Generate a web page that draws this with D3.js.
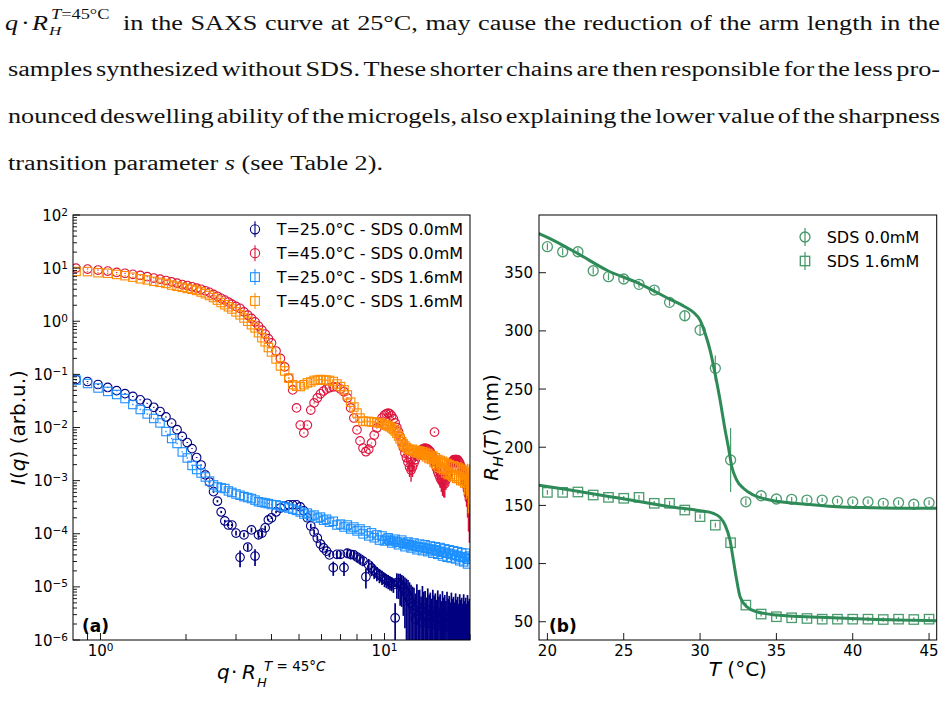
<!DOCTYPE html>
<html>
<head>
<meta charset="utf-8">
<script src="https://cdn.jsdelivr.net/npm/d3@7"></script>
<style>
  html, body { margin: 0; padding: 0; background: #fff; }
  svg { display: block; }
  text { font-family: "DejaVu Sans", sans-serif; fill: #000; }
  .prose text { font-family: "Liberation Serif", serif; font-size: 20px; fill: #111; }
</style>
</head>
<body>
<div id="figure"></div>
<script>
// ---------- panel (a): SAXS intensities vs reduced q ----------
const qValues = [
  0.82, 0.90, 0.98, 1.06, 1.14, 1.22, 1.30, 1.38, 1.46, 1.54,
  1.62, 1.70, 1.78, 1.86, 1.94, 2.02, 2.10, 2.18, 2.26, 2.34,
  2.42, 2.50, 2.58, 2.66, 2.74, 2.82, 2.90, 3.00, 3.10, 3.20,
  3.30, 3.40, 3.50, 3.60, 3.70, 3.80, 3.90, 4.00, 4.15, 4.30,
  4.45, 4.60, 4.75, 4.90, 5.05, 5.20, 5.35, 5.50, 5.65, 5.80,
  5.95, 6.10, 6.25, 6.40, 6.60, 6.80, 7.00, 7.20, 7.40, 7.60,
  7.80, 8.00, 8.20, 8.40, 8.60, 8.80, 9.00, 9.20, 9.40, 9.60,
  9.80,
  10.00, 10.15, 10.30, 10.45, 10.60, 10.75, 10.90, 11.05, 11.20, 11.35,
  11.50, 11.65, 11.80, 11.95, 12.10, 12.25, 12.40, 12.55, 12.70, 12.85,
  13.00, 13.15, 13.30, 13.45, 13.60, 13.75, 13.90, 14.05, 14.20, 14.35,
  14.50, 14.65, 14.80, 14.95, 15.10, 15.25, 15.40, 15.55, 15.70, 15.85,
  16.00, 16.15, 16.30, 16.45, 16.60, 16.75, 16.90, 17.05, 17.20, 17.35,
  17.50, 17.65, 17.80, 17.95, 18.10, 18.25, 18.40, 18.55, 18.70, 18.85,
  19.00, 19.15, 19.30, 19.45, 19.60, 19.75, 19.90
];

// T=25.0°C - SDS 0.0mM
const iT25Sds0 = [
  0.080, 0.0735, 0.0645, 0.0567, 0.0493, 0.0433, 0.0384, 0.0332, 0.0286, 0.024,
  0.020, 0.0158, 0.0121, 0.0091, 0.0068, 0.0052, 0.0040, 0.00272, 0.00197, 0.00128,
  0.00094, 0.00062, 0.00041, 2.57e-4, 1.74e-4, 1.46e-4, 1.46e-4, 1.03e-4, 3.6e-5, 9.5e-5,
  5.6e-5, 1.18e-4, 3.8e-5, 9.5e-5, 1.03e-4, 1.29e-4, 1.82e-4, 2.0e-4, 2.57e-4, 3.05e-4,
  3.3e-4, 3.5e-4, 3.5e-4, 3.5e-4, 3.2e-4, 2.7e-4, 2.0e-4, 1.4e-4, 1.08e-4, 8.3e-5,
  6.4e-5, 5.4e-5, 4.7e-5, 4.0e-5, 2.3e-5, 4.1e-5, 4.1e-5, 2.3e-5, 4.3e-5, 4.1e-5,
  4.0e-5, 3.65e-5, 3.35e-5, 3.07e-5, 1.55e-5, 2.58e-5, 2.27e-5, 2.0e-5, 1.82e-5, 1.67e-5,
  1.55e-5,
  1.41e-5, 1.35e-5, 1.29e-5, 1.22e-5, 1.18e-5, 1.1e-5, 2.6e-6, 1.2e-5, 1.18e-5, 1.1e-5,
  1.05e-5, 9.5e-6, 8.3e-6, 7.5e-6, 6.7e-6, 5.8e-6, 5.0e-6, 4.4e-6, 3.7e-6, 2.5e-6,
  4.3e-6, 2.9e-6, 3.4e-6, 2.2e-6, 4.0e-6, 2.7e-6, 3.2e-6, 2.1e-6, 3.6e-6, 2.4e-6,
  3.0e-6, 2.0e-6, 3.4e-6, 2.3e-6, 2.9e-6, 1.9e-6, 3.3e-6, 2.2e-6, 2.8e-6, 1.8e-6,
  3.2e-6, 2.1e-6, 2.7e-6, 1.8e-6, 3.1e-6, 2.0e-6, 2.6e-6, 1.7e-6, 3.0e-6, 2.0e-6,
  2.5e-6, 1.7e-6, 2.9e-6, 1.9e-6, 2.5e-6, 1.6e-6, 2.8e-6, 1.9e-6, 2.4e-6, 1.6e-6,
  2.8e-6, 1.8e-6, 2.4e-6, 1.6e-6, 2.7e-6, 1.8e-6, 2.3e-6
];
const errT25Sds0 = [
  0.02, 0.02, 0.02, 0.02, 0.02, 0.02, 0.02, 0.02, 0.02, 0.02,
  0.02, 0.02, 0.02, 0.02, 0.02, 0.02, 0.02, 0.02, 0.02, 0.02,
  0.05, 0.05, 0.05, 0.05, 0.05, 0.05, 0.05, 0.10, 0.35, 0.10,
  0.15, 0.10, 0.35, 0.15, 0.15, 0.10, 0.05, 0.05, 0.05, 0.05,
  0.05, 0.05, 0.05, 0.05, 0.10, 0.10, 0.10, 0.10, 0.10, 0.10,
  0.10, 0.10, 0.10, 0.10, 0.30, 0.15, 0.15, 0.30, 0.20, 0.20,
  0.20, 0.20, 0.20, 0.20, 0.40, 0.30, 0.30, 0.30, 0.30, 0.30,
  0.30,
  0.30, 0.30, 0.30, 0.30, 0.30, 0.30, 0.90, 0.50, 0.50, 0.60,
  0.60, 0.70, 0.80, 0.90, 1.0, 1.1, 1.2, 1.3, 1.6, 2.0,
  1.6, 2.0, 1.6, 2.0, 1.6, 2.0, 1.6, 2.0, 1.6, 2.0,
  1.6, 2.0, 1.6, 2.0, 1.6, 2.0, 1.6, 2.0, 1.6, 2.0,
  1.6, 2.0, 1.6, 2.0, 1.6, 2.0, 1.6, 2.0, 1.6, 2.0,
  1.6, 2.0, 1.6, 2.0, 1.6, 2.0, 1.6, 2.0, 1.6, 2.0,
  1.6, 2.0, 1.6, 2.0, 1.6, 2.0, 1.6
];

// T=45.0°C - SDS 0.0mM
const iT45Sds0 = [
  10.0, 9.6, 9.2, 8.8, 8.3, 8.0, 7.65, 7.3, 6.9, 6.5,
  6.2, 5.85, 5.5, 5.2, 4.9, 4.7, 4.45, 4.2, 4.0, 3.75,
  3.5, 3.2, 2.95, 2.7, 2.5, 2.3, 2.1, 1.9, 1.75, 1.5,
  1.3, 1.13, 0.97, 0.81, 0.68, 0.575, 0.47, 0.39, 0.275, 0.2,
  0.138, 0.085, 0.051, 0.0234, 0.0111, 0.0079, 0.0111, 0.0213, 0.029, 0.036,
  0.043, 0.0486, 0.053, 0.056, 0.058, 0.058, 0.053, 0.047, 0.036, 0.0234,
  0.0151, 0.009, 0.0056, 0.0041, 0.0035, 0.0039, 0.0051, 0.0072, 0.0098, 0.0127,
  0.0151,
  0.0172, 0.0180, 0.0186, 0.0180, 0.0166, 0.0145, 0.0122, 0.0100, 0.0083, 0.0067,
  0.0054, 0.0042, 0.0033, 0.0027, 0.0022, 0.0018, 0.00158, 0.0018, 0.00214, 0.0025,
  0.0029, 0.0032, 0.0035, 0.0037, 0.0039, 0.0040, 0.0041, 0.0040, 0.0039, 0.0037,
  0.0035, 0.0031, 0.0027, 0.0023, 0.00197, 0.0017, 0.00145, 0.00128, 0.00112, 0.00102,
  0.00094, 0.00088, 0.00087, 0.00102, 0.00122, 0.00145, 0.00173, 0.00192, 0.00214, 0.0023,
  0.00245, 0.0025, 0.0025, 0.0025, 0.00245, 0.0023, 0.00214, 0.0019, 0.00173, 0.0015,
  0.00133, 0.0011, 0.00094, 0.0008, 0.00067, 0.00055, 0.00045
];
const errT45Sds0 = [
  0.02, 0.02, 0.02, 0.02, 0.02, 0.02, 0.02, 0.02, 0.02, 0.02,
  0.02, 0.02, 0.02, 0.02, 0.02, 0.02, 0.02, 0.02, 0.02, 0.02,
  0.02, 0.02, 0.02, 0.02, 0.02, 0.02, 0.02, 0.02, 0.02, 0.02,
  0.02, 0.02, 0.02, 0.02, 0.02, 0.02, 0.02, 0.02, 0.02, 0.02,
  0.02, 0.02, 0.02, 0.02, 0.02, 0.02, 0.02, 0.02, 0.02, 0.02,
  0.02, 0.02, 0.02, 0.02, 0.02, 0.02, 0.02, 0.02, 0.02, 0.02,
  0.02, 0.02, 0.02, 0.02, 0.02, 0.02, 0.02, 0.02, 0.02, 0.02,
  0.05,
  0.05, 0.05, 0.05, 0.05, 0.05, 0.05, 0.05, 0.05, 0.05, 0.05,
  0.05, 0.10, 0.15, 0.20, 0.30, 0.35, 0.40, 0.35, 0.30, 0.10,
  0.10, 0.10, 0.10, 0.10, 0.10, 0.10, 0.10, 0.10, 0.10, 0.10,
  0.10, 0.10, 0.10, 0.10, 0.25, 0.25, 0.30, 0.30, 0.35, 0.40,
  0.45, 0.45, 0.45, 0.35, 0.20, 0.20, 0.20, 0.20, 0.20, 0.20,
  0.20, 0.20, 0.20, 0.20, 0.20, 0.20, 0.20, 0.20, 0.30, 0.35,
  0.40, 0.45, 0.50, 0.60, 0.70, 0.80, 0.85
];
const outlierT45Sds0 = [[15.0, 0.0082]];

// T=25.0°C - SDS 1.6mM
const iT25Sds16 = [
  0.078, 0.0673, 0.0554, 0.0478, 0.0418, 0.0351, 0.0271, 0.0218, 0.0180, 0.0148,
  0.0122, 0.0084, 0.0062, 0.0050, 0.00347, 0.00267, 0.00193, 0.00162, 0.00139, 0.00117,
  0.00098, 0.00083, 0.00076, 0.00073, 0.00071, 0.00064, 0.00060, 0.00056, 0.00053, 0.00050,
  0.00048, 0.00046, 0.00043, 0.00040, 0.00039, 0.00038, 0.00037, 0.000355, 0.00035, 0.000335,
  0.00032, 0.000305, 0.00029, 0.000275, 0.000257, 0.000235, 0.000245, 0.000215, 0.000225, 0.000197,
  0.000206, 0.00018, 0.000188, 0.000165, 0.000172, 0.000146, 0.000152, 0.000134, 0.000146, 0.000123,
  0.000134, 0.000113, 0.000123, 0.0000995, 0.000113, 0.000091, 0.000104, 0.000084, 0.000095, 0.000076,
  0.000091,
  7.3e-5, 7.9e-5, 8.4e-5, 7.5e-5, 6.7e-5, 7.3e-5, 7.9e-5, 7.0e-5, 6.2e-5, 6.9e-5,
  7.6e-5, 6.6e-5, 5.7e-5, 6.4e-5, 7.0e-5, 6.2e-5, 5.4e-5, 6.0e-5, 6.7e-5, 5.8e-5,
  5.0e-5, 5.7e-5, 6.4e-5, 5.5e-5, 4.8e-5, 5.5e-5, 6.2e-5, 5.3e-5, 4.6e-5, 5.2e-5,
  5.9e-5, 5.0e-5, 4.3e-5, 5.0e-5, 5.7e-5, 4.8e-5, 4.1e-5, 4.7e-5, 5.5e-5, 4.5e-5,
  3.8e-5, 4.5e-5, 5.2e-5, 4.3e-5, 3.6e-5, 4.3e-5, 5.0e-5, 4.1e-5, 3.5e-5, 4.1e-5,
  4.8e-5, 3.9e-5, 3.35e-5, 3.9e-5, 4.6e-5, 3.7e-5, 3.1e-5, 3.7e-5, 4.4e-5, 3.6e-5,
  2.95e-5, 3.6e-5, 4.3e-5, 3.4e-5, 2.7e-5, 3.3e-5, 3.8e-5
];
const errT25Sds16 = [
  0.03, 0.03, 0.03, 0.03, 0.03, 0.03, 0.03, 0.03, 0.03, 0.03,
  0.03, 0.03, 0.03, 0.03, 0.03, 0.03, 0.03, 0.03, 0.03, 0.03,
  0.03, 0.03, 0.03, 0.03, 0.03, 0.03, 0.03, 0.03, 0.03, 0.03,
  0.03, 0.03, 0.03, 0.03, 0.03, 0.03, 0.03, 0.03, 0.03, 0.03,
  0.03, 0.03, 0.03, 0.03, 0.03, 0.03, 0.03, 0.03, 0.03, 0.03,
  0.03, 0.03, 0.03, 0.03, 0.03, 0.03, 0.03, 0.03, 0.03, 0.03,
  0.03, 0.03, 0.03, 0.03, 0.03, 0.03, 0.03, 0.03, 0.03, 0.03,
  0.03,
  0.10, 0.10, 0.10, 0.10, 0.10, 0.10, 0.10, 0.10, 0.10, 0.10,
  0.10, 0.10, 0.10, 0.10, 0.10, 0.10, 0.10, 0.10, 0.10, 0.10,
  0.10, 0.10, 0.10, 0.10, 0.10, 0.10, 0.10, 0.10, 0.10, 0.10,
  0.10, 0.10, 0.10, 0.10, 0.10, 0.10, 0.10, 0.10, 0.10, 0.10,
  0.10, 0.10, 0.10, 0.10, 0.10, 0.10, 0.10, 0.10, 0.10, 0.10,
  0.10, 0.10, 0.10, 0.10, 0.10, 0.10, 0.10, 0.10, 0.10, 0.10,
  0.10, 0.10, 0.10, 0.10, 0.10, 0.10, 0.10
];

// T=45.0°C - SDS 1.6mM
const iT45Sds16 = [
  8.65, 8.6, 8.2, 8.0, 7.6, 7.2, 6.75, 6.3, 6.0, 5.65,
  5.4, 5.15, 4.8, 4.55, 4.35, 4.15, 4.0, 3.8, 3.55, 3.3,
  3.05, 2.8, 2.5, 2.25, 2.05, 1.87, 1.7, 1.5, 1.32, 1.15,
  1.0, 0.86, 0.75, 0.61, 0.49, 0.41, 0.32, 0.264, 0.195, 0.144,
  0.116, 0.085, 0.064, 0.060, 0.059, 0.064, 0.069, 0.072, 0.077, 0.078,
  0.080, 0.078, 0.078, 0.077, 0.0735, 0.066, 0.059, 0.051, 0.041, 0.030,
  0.0243, 0.0187, 0.0151, 0.0132, 0.0130, 0.0130, 0.0127, 0.0127, 0.0124, 0.0122,
  0.0120,
  0.0114, 0.0111, 0.0107, 0.0103, 0.0098, 0.0092, 0.0086, 0.0078, 0.0069, 0.0061,
  0.0054, 0.0049, 0.0045, 0.0042, 0.0039, 0.0038, 0.0037, 0.0039, 0.0036, 0.0034,
  0.0037, 0.0033, 0.0036, 0.0031, 0.0035, 0.0030, 0.0034, 0.0028, 0.0032, 0.0026,
  0.0030, 0.0025, 0.0029, 0.0022, 0.0027, 0.0020, 0.0025, 0.0018, 0.0024, 0.0017,
  0.0023, 0.0016, 0.0022, 0.0014, 0.0021, 0.0013, 0.0020, 0.0013, 0.0019, 0.0012,
  0.0019, 0.0012, 0.0018, 0.0011, 0.0018, 0.0011, 0.0017, 0.0010, 0.0016, 0.0010,
  0.0015, 0.0009, 0.0014, 0.0009, 0.0013, 0.0008, 0.0012
];
const errT45Sds16 = [
  0.03, 0.03, 0.03, 0.03, 0.03, 0.03, 0.03, 0.03, 0.03, 0.03,
  0.03, 0.03, 0.03, 0.03, 0.03, 0.03, 0.03, 0.03, 0.03, 0.03,
  0.03, 0.03, 0.03, 0.03, 0.03, 0.03, 0.03, 0.03, 0.03, 0.03,
  0.03, 0.03, 0.03, 0.03, 0.03, 0.03, 0.03, 0.03, 0.03, 0.03,
  0.03, 0.03, 0.03, 0.03, 0.03, 0.03, 0.03, 0.03, 0.03, 0.03,
  0.03, 0.03, 0.03, 0.03, 0.03, 0.03, 0.03, 0.03, 0.03, 0.03,
  0.03, 0.03, 0.03, 0.03, 0.03, 0.03, 0.03, 0.03, 0.03, 0.03,
  0.03,
  0.05, 0.05, 0.05, 0.05, 0.05, 0.05, 0.05, 0.05, 0.05, 0.05,
  0.05, 0.05, 0.05, 0.05, 0.05, 0.05, 0.05, 0.05, 0.05, 0.15,
  0.15, 0.15, 0.15, 0.15, 0.15, 0.15, 0.15, 0.15, 0.15, 0.15,
  0.15, 0.15, 0.15, 0.15, 0.15, 0.15, 0.15, 0.15, 0.15, 0.15,
  0.15, 0.20, 0.20, 0.20, 0.20, 0.20, 0.20, 0.20, 0.20, 0.20,
  0.20, 0.20, 0.20, 0.20, 0.20, 0.20, 0.20, 0.20, 0.20, 0.20,
  0.30, 0.40, 0.40, 0.50, 0.60, 0.70, 0.70
];

const saxsLabels = [
  "T=25.0°C - SDS 0.0mM",
  "T=45.0°C - SDS 0.0mM",
  "T=25.0°C - SDS 1.6mM",
  "T=45.0°C - SDS 1.6mM"
];

// ---------- panel (b): hydrodynamic radius vs temperature ----------
const tempC = [20, 21, 22, 23, 24, 25, 26, 27, 28, 29, 30, 31, 32, 33, 34, 35, 36, 37, 38, 39, 40, 41, 42, 43, 44, 45];
const rhSds0 = [372.4, 368.0, 368.0, 351.7, 346.6, 344.6, 340.0, 335.1, 324.5, 313.0, 300.7, 267.8, 189.0,
                153.1, 158.3, 155.5, 155.2, 154.6, 154.6, 153.7, 153.1, 153.1, 151.8, 152.4, 151.0, 152.4];
const rhSds0Err = [3, 3, 3, 3, 3, 3, 3, 3, 3, 4, 5, 11, 27.5, 3, 2, 2, 2, 2, 2, 2, 2, 2, 2, 2, 2, 2];
const rhSds16 = [161.2, 161.2, 161.5, 158.9, 156.9, 156.1, 156.9, 151.8, 151.8, 146.0, 140.3, 133.0, 117.9,
                 64.3, 56.6, 54.3, 53.4, 52.8, 52.2, 52.2, 52.2, 52.2, 51.9, 52.2, 51.9, 52.2];
const rhSds16Err = [2, 2, 2, 2, 2, 2, 2, 2, 2, 2, 2, 2, 2, 2, 2, 2, 2, 2, 2, 2, 2, 2, 2, 2, 2, 2];

// fitted curves
const fitTempSds0 = [19.41, 20, 21.96, 23.96, 25.99, 27.97, 28.97, 29.56, 30.0, 30.33, 30.65, 30.98, 31.31,
                     31.64, 31.85, 32.08, 32.40, 32.84, 33.49, 34.58, 36.76, 38.95, 41.13, 43.31, 45.5];
const fitRhSds0 = [383.9, 380.4, 366.7, 351.7, 340.9, 327.5, 321.0, 316.0, 309.3, 297.9, 283.6, 263.5, 240.6,
                   214.8, 200.4, 183.2, 171.8, 164.7, 158.9, 154.6, 151.2, 148.9, 148.0, 147.5, 147.5];
const fitTempSds16 = [19.41, 21.49, 24.76, 28.04, 30.0, 30.87, 31.31, 31.64, 31.96, 32.18, 32.40, 32.62,
                      33.06, 33.71, 35.02, 37.86, 41.13, 45.5];
const fitRhSds16 = [167.5, 163.2, 156.1, 148.9, 145.4, 143.2, 139.7, 133.1, 120.2, 103.0, 85.8, 71.5,
                    62.9, 58.6, 55.8, 53.8, 52.1, 50.9];

const rhLabels = ["SDS 0.0mM", "SDS 1.6mM"];

const yTicksB = [50, 100, 150, 200, 250, 300, 350];
const xTicksB = [20, 25, 30, 35, 40, 45];

// ---------- paragraph above the figure ----------
const paragraphLines = [
  "in the SAXS curve at 25°C, may cause the reduction of the arm length in the",
  "samples synthesized without SDS. These shorter chains are then responsible for the less pro-",
  "nounced deswelling ability of the microgels, also explaining the lower value of the sharpness",
  "transition parameter *s (see Table 2)."
];

(function() {
  const W = 947, H = 712;
  const svg = d3.select("#figure").append("svg")
    .attr("width", W)
    .attr("height", H)
    .attr("viewBox", `0 0 ${W} ${H}`);

  svg.append("rect").attr("width", W).attr("height", H).attr("fill", "#fff");
  const defs = svg.append("defs");

  // ================= paragraph =================
  const prose = svg.append("g").attr("class", "prose");
  const lineY = [30, 76, 123, 170];
  const lineX0 = [123, 8, 8, 8];
  const lineX1 = [940, 940, 940, 383];

  function makeWords(str, y) {
    return str.split(" ").map(w => {
      const italic = w.startsWith("*");
      const t = prose.append("text").attr("y", y).text(italic ? w.slice(1) : w);
      if (italic) t.style("font-style", "italic");
      return { node: t, width: t.node().getComputedTextLength() };
    });
  }
  const probe1 = prose.append("text").text("a a");
  const probe2 = prose.append("text").text("aa");
  const spaceW = probe1.node().getComputedTextLength() - probe2.node().getComputedTextLength();
  probe1.remove();
  probe2.remove();

  const lines = paragraphLines.map((s, i) => makeWords(s, lineY[i]));
  // horizontal stretch taken from the last (not justified) line
  const last = lines[3];
  const natural = d3.sum(last, d => d.width) + spaceW * (last.length - 1);
  const stretch = (lineX1[3] - lineX0[3]) / natural;

  lines.forEach((words, i) => {
    const total = d3.sum(words, d => d.width * stretch);
    const gap = (lineX1[i] - lineX0[i] - total) / (words.length - 1);
    let x = lineX0[i];
    words.forEach(w => {
      w.node.attr("x", x)
        .attr("textLength", w.width * stretch)
        .attr("lengthAdjust", "spacingAndGlyphs");
      x += w.width * stretch + gap;
    });
  });

  // math at the start of line 1, stretched the same way
  const mg = prose.append("g").attr("transform", `translate(5,0) scale(${stretch},1)`);
  const m = mg.append("text").attr("y", lineY[0]);
  m.append("tspan").attr("x", 0).style("font-style", "italic").text("q");
  m.append("tspan").attr("x", 16 / stretch).text("·");
  m.append("tspan").attr("x", 27 / stretch).style("font-style", "italic").text("R");
  m.append("tspan").attr("x", 44 / stretch).attr("y", lineY[0] + 5).style("font-size", "13px")
    .style("font-style", "italic").text("H");
  const sup0 = m.append("tspan").attr("x", 46 / stretch).attr("y", lineY[0] - 11).style("font-size", "14px");
  sup0.append("tspan").style("font-style", "italic").text("T");
  sup0.append("tspan").text("=45°C");

  // ================= panel (a) =================
  const A = { left: 73, right: 470, top: 215, bottom: 640 };
  const xA = d3.scaleLog().domain([0.8, 20]).range([A.left, A.right]);
  const yA = d3.scaleLog().domain([1e-6, 1e2]).range([A.bottom, A.top]);

  defs.append("clipPath").attr("id", "clipA").append("rect")
    .attr("x", A.left).attr("y", A.top)
    .attr("width", A.right - A.left).attr("height", A.bottom - A.top);

  const gA = svg.append("g");
  const plotA = gA.append("g").attr("clip-path", "url(#clipA)");

  const saxsSeries = [
    { values: iT25Sds0, errors: errT25Sds0, color: "#000080", shape: "circle", barWidth: 1.7 },
    { values: iT45Sds0, errors: errT45Sds0, color: "#dc143c", shape: "circle", barWidth: 1.4, extra: outlierT45Sds0 },
    { values: iT25Sds16, errors: errT25Sds16, color: "#1e90ff", shape: "square", barWidth: 1.3 },
    { values: iT45Sds16, errors: errT45Sds16, color: "#ff8c00", shape: "square", barWidth: 1.4 }
  ];

  function drawMarker(sel, shape, color, size) {
    if (shape === "circle") {
      sel.append("circle").attr("r", size).attr("fill", "none")
        .attr("stroke", color).attr("stroke-width", 1.1);
    } else {
      sel.append("rect").attr("x", -size).attr("y", -size)
        .attr("width", 2 * size).attr("height", 2 * size)
        .attr("fill", "none").attr("stroke", color).attr("stroke-width", 1.1);
    }
  }

  saxsSeries.forEach(s => {
    const pts = qValues.map((q, i) => ({ q: q, v: s.values[i], e: s.errors[i] }));
    if (s.extra) s.extra.forEach(p => pts.push({ q: p[0], v: p[1], e: 0.03 }));
    const g = plotA.append("g");

    g.selectAll("line.err").data(pts).enter().append("line")
      .attr("class", "err")
      .attr("x1", d => xA(d.q)).attr("x2", d => xA(d.q))
      .attr("y1", d => yA(d.v * (1 + d.e)))
      .attr("y2", d => d.e >= 1 ? A.bottom + 10 : yA(d.v * (1 - d.e)))
      .attr("stroke", s.color)
      .attr("stroke-width", s.barWidth);

    g.selectAll("g.pt").data(pts).enter().append("g")
      .attr("class", "pt")
      .attr("transform", d => `translate(${xA(d.q)},${yA(d.v)})`)
      .each(function() { drawMarker(d3.select(this), s.shape, s.color, s.shape === "circle" ? 4.3 : 4.2); });
  });

  // ticks (inward)
  const axA = gA.append("g").attr("stroke", "#000").attr("stroke-width", 0.9);
  const yMajorA = d3.range(-6, 3).map(e => Math.pow(10, e));
  const yMinorA = [];
  d3.range(-6, 2).forEach(e => d3.range(2, 10).forEach(k => yMinorA.push(k * Math.pow(10, e))));
  yMajorA.forEach(v => axA.append("line").attr("x1", A.left).attr("x2", A.left + 7)
    .attr("y1", yA(v)).attr("y2", yA(v)));
  yMinorA.forEach(v => axA.append("line").attr("x1", A.left).attr("x2", A.left + 4)
    .attr("y1", yA(v)).attr("y2", yA(v)));
  const xMajorA = [1, 10];
  const xMinorA = [0.9, 2, 3, 4, 5, 6, 7, 8, 9, 20];
  xMajorA.forEach(v => axA.append("line").attr("x1", xA(v)).attr("x2", xA(v))
    .attr("y1", A.bottom).attr("y2", A.bottom - 7));
  xMinorA.forEach(v => axA.append("line").attr("x1", xA(v)).attr("x2", xA(v))
    .attr("y1", A.bottom).attr("y2", A.bottom - 6));

  function powLabel(t, exp) {
    t.append("tspan").text("10");
    t.append("tspan").attr("dy", -5).style("font-size", "10.5px")
      .text(exp < 0 ? "\u2212" + (-exp) : String(exp));
  }
  yMajorA.forEach(v => {
    const t = gA.append("text").attr("x", A.left - 5).attr("y", yA(v) + 5.5)
      .attr("text-anchor", "end").style("font-size", "15px");
    powLabel(t, Math.round(Math.log10(v)));
  });
  xMajorA.forEach(v => {
    const t = gA.append("text").attr("x", xA(v)).attr("y", 656)
      .attr("text-anchor", "middle").style("font-size", "15px");
    powLabel(t, Math.round(Math.log10(v)));
  });

  gA.append("rect").attr("x", A.left).attr("y", A.top)
    .attr("width", A.right - A.left).attr("height", A.bottom - A.top)
    .attr("fill", "none").attr("stroke", "#000").attr("stroke-width", 1);

  // axis labels
  const ylA = gA.append("text")
    .attr("transform", `translate(25,${(A.top + A.bottom) / 2}) rotate(-90)`)
    .attr("text-anchor", "middle").style("font-size", "20px");
  ylA.append("tspan").style("font-style", "italic").text("I");
  ylA.append("tspan").text("(");
  ylA.append("tspan").style("font-style", "italic").text("q");
  ylA.append("tspan").text(") (arb.u.)");

  const xlA = gA.append("text").attr("y", 679).style("font-size", "20px");
  xlA.append("tspan").attr("x", 217).style("font-style", "italic").text("q");
  xlA.append("tspan").attr("x", 231).text("·");
  xlA.append("tspan").attr("x", 242).style("font-style", "italic").text("R");
  xlA.append("tspan").attr("x", 257).attr("y", 687).style("font-size", "13px")
    .style("font-style", "italic").text("H");
  const supA = xlA.append("tspan").attr("x", 264).attr("y", 671).style("font-size", "13.5px");
  supA.append("tspan").style("font-style", "italic").text("T");
  supA.append("tspan").text(" = 45°");
  supA.append("tspan").style("font-style", "italic").text("C");

  gA.append("text").attr("x", 82).attr("y", 632)
    .style("font-size", "17px").style("font-weight", "bold").text("(a)");

  // legend
  const legA = gA.append("g");
  saxsSeries.forEach((s, i) => {
    const yy = 229.3 + i * 23.9;
    const row = legA.append("g").attr("transform", `translate(255,${yy})`);
    row.append("line").attr("x1", 0).attr("x2", 0).attr("y1", -8).attr("y2", 8)
      .attr("stroke", s.color).attr("stroke-width", 1.1);
    drawMarker(row, s.shape, s.color, s.shape === "circle" ? 4.6 : 4.4);
    legA.append("text").attr("x", 276.7).attr("y", yy + 5.8)
      .style("font-size", "16px").text(saxsLabels[i]);
  });

  // ================= panel (b) =================
  const B = { left: 539, right: 936.7, top: 215, bottom: 640 };
  const xB = d3.scaleLinear().domain([19.45, 45.5]).range([B.left, B.right]);
  const yB = d3.scaleLinear().domain([34.3, 399.6]).range([B.bottom, B.top]);
  const green = "#2e8b57";

  defs.append("clipPath").attr("id", "clipB").append("rect")
    .attr("x", B.left).attr("y", B.top)
    .attr("width", B.right - B.left).attr("height", B.bottom - B.top);

  const gB = svg.append("g");
  const plotB = gB.append("g").attr("clip-path", "url(#clipB)");

  const rhSeries = [
    { values: rhSds0, errors: rhSds0Err, shape: "circle", fitT: fitTempSds0, fitR: fitRhSds0 },
    { values: rhSds16, errors: rhSds16Err, shape: "square", fitT: fitTempSds16, fitR: fitRhSds16 }
  ];

  const fitLine = d3.line()
    .x(d => xB(d[0]))
    .y(d => yB(d[1]))
    .curve(d3.curveMonotoneX);

  rhSeries.forEach(s => {
    const pts = tempC.map((t, i) => ({ t: t, v: s.values[i], e: s.errors[i] }));
    const g = plotB.append("g").attr("opacity", 0.85);
    g.selectAll("line.err").data(pts).enter().append("line")
      .attr("x1", d => xB(d.t)).attr("x2", d => xB(d.t))
      .attr("y1", d => yB(d.v + d.e)).attr("y2", d => yB(d.v - d.e))
      .attr("stroke", green).attr("stroke-width", 1.2);
    g.selectAll("g.pt").data(pts).enter().append("g")
      .attr("transform", d => `translate(${xB(d.t)},${yB(d.v)})`)
      .each(function() {
        const p = d3.select(this);
        if (s.shape === "circle") {
          p.append("circle").attr("r", 5).attr("fill", "none")
            .attr("stroke", green).attr("stroke-width", 1.3);
        } else {
          p.append("rect").attr("x", -4.7).attr("y", -4.7).attr("width", 9.4).attr("height", 9.4)
            .attr("fill", "none").attr("stroke", green).attr("stroke-width", 1.3);
        }
      });
  });

  rhSeries.forEach(s => {
    plotB.append("path")
      .datum(s.fitT.map((t, i) => [t, s.fitR[i]]))
      .attr("d", fitLine)
      .attr("fill", "none")
      .attr("stroke", green)
      .attr("stroke-width", 3);
  });

  const axB = gB.append("g").attr("stroke", "#000").attr("stroke-width", 0.9);
  yTicksB.forEach(v => {
    axB.append("line").attr("x1", B.left).attr("x2", B.left + 7)
      .attr("y1", yB(v)).attr("y2", yB(v));
    gB.append("text").attr("x", B.left - 6).attr("y", yB(v) + 5.5)
      .attr("text-anchor", "end").style("font-size", "15px").text(v);
  });
  xTicksB.forEach(v => {
    axB.append("line").attr("x1", xB(v)).attr("x2", xB(v))
      .attr("y1", B.bottom).attr("y2", B.bottom - 7);
    gB.append("text").attr("x", xB(v)).attr("y", 656)
      .attr("text-anchor", "middle").style("font-size", "15px").text(v);
  });

  gB.append("rect").attr("x", B.left).attr("y", B.top)
    .attr("width", B.right - B.left).attr("height", B.bottom - B.top)
    .attr("fill", "none").attr("stroke", "#000").attr("stroke-width", 1);

  const ylB = gB.append("text")
    .attr("transform", `translate(498,${(B.top + B.bottom) / 2}) rotate(-90)`)
    .attr("text-anchor", "middle").style("font-size", "20px");
  ylB.append("tspan").style("font-style", "italic").text("R");
  ylB.append("tspan").attr("dy", 5).style("font-size", "14px").style("font-style", "italic").text("H");
  ylB.append("tspan").attr("dy", -5).text("(");
  ylB.append("tspan").style("font-style", "italic").text("T");
  ylB.append("tspan").text(") (nm)");

  const xlB = gB.append("text").attr("x", (B.left + B.right) / 2).attr("y", 676)
    .attr("text-anchor", "middle").style("font-size", "20px");
  xlB.append("tspan").style("font-style", "italic").text("T");
  xlB.append("tspan").text(" (°C)");

  gB.append("text").attr("x", 549).attr("y", 632)
    .style("font-size", "17px").style("font-weight", "bold").text("(b)");

  const legB = gB.append("g").attr("opacity", 0.9);
  rhSeries.forEach((s, i) => {
    const yy = 237 + i * 24;
    const row = legB.append("g").attr("transform", `translate(805,${yy})`);
    row.append("line").attr("x1", 0).attr("x2", 0).attr("y1", -9).attr("y2", 9)
      .attr("stroke", green).attr("stroke-width", 1.2);
    if (s.shape === "circle") {
      row.append("circle").attr("r", 5).attr("fill", "none")
        .attr("stroke", green).attr("stroke-width", 1.3);
    } else {
      row.append("rect").attr("x", -4.7).attr("y", -4.7).attr("width", 9.4).attr("height", 9.4)
        .attr("fill", "none").attr("stroke", green).attr("stroke-width", 1.3);
    }
    gB.append("text").attr("x", 826.7).attr("y", yy + 5.8)
      .style("font-size", "16px").text(rhLabels[i]);
  });
})();
</script>
</body>
</html>
